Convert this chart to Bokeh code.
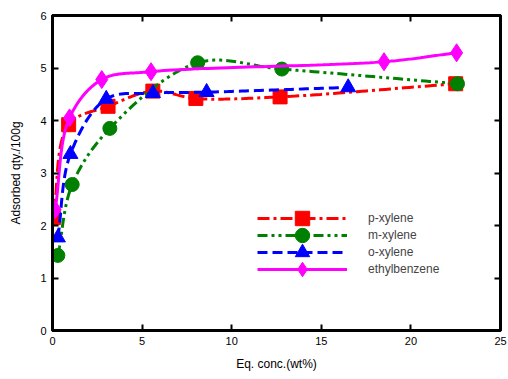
import numpy as np
from bokeh.plotting import figure
from bokeh.models import LinearAxis, Legend, LegendItem, Range1d, FixedTicker
from bokeh.embed import file_html
from bokeh.resources import INLINE

# data
p_x = [0.05, 0.9, 3.1, 5.6, 8.0, 12.7, 22.5]
p_y = [2.15, 3.92, 4.27, 4.56, 4.42, 4.45, 4.70]
m_x = [0.3, 1.1, 3.2, 8.1, 12.8, 22.6]
m_y = [1.43, 2.78, 3.85, 5.10, 4.98, 4.70]
o_x = [0.3, 1.0, 3.0, 5.6, 8.6, 16.5]
o_y = [1.77, 3.36, 4.41, 4.52, 4.54, 4.63]
e_x = [0.15, 0.95, 2.75, 5.5, 18.5, 22.55]
e_y = [2.30, 4.05, 4.78, 4.93, 5.12, 5.29]
names = ["p-xylene", "m-xylene", "o-xylene", "ethylbenzene"]
x_ticks = [0, 5, 10, 15, 20, 25]
y_ticks = [0, 1, 2, 3, 4, 5, 6]


def smooth(x, y, n=40, sx=17.9, sy=52.5, alpha=0.5):
    """Centripetal Catmull-Rom curve through the points (computed in a screen-like scale)."""
    P = np.column_stack([np.asarray(x, float) * sx, np.asarray(y, float) * sy])
    P = np.vstack([2 * P[0] - P[1], P, 2 * P[-1] - P[-2]])
    out = []
    for i in range(1, len(P) - 2):
        p0, p1, p2, p3 = P[i - 1], P[i], P[i + 1], P[i + 2]
        t0 = 0.0
        t1 = t0 + np.linalg.norm(p1 - p0) ** alpha
        t2 = t1 + np.linalg.norm(p2 - p1) ** alpha
        t3 = t2 + np.linalg.norm(p3 - p2) ** alpha
        t = np.linspace(t1, t2, n)[:, None]
        a1 = (t1 - t) / (t1 - t0) * p0 + (t - t0) / (t1 - t0) * p1
        a2 = (t2 - t) / (t2 - t1) * p1 + (t - t1) / (t2 - t1) * p2
        a3 = (t3 - t) / (t3 - t2) * p2 + (t - t2) / (t3 - t2) * p3
        b1 = (t2 - t) / (t2 - t0) * a1 + (t - t0) / (t2 - t0) * a2
        b2 = (t3 - t) / (t3 - t1) * a2 + (t - t1) / (t3 - t1) * a3
        c = (t2 - t) / (t2 - t1) * b1 + (t - t1) / (t2 - t1) * b2
        out.append(c if i == 1 else c[1:])
    C = np.vstack(out)
    return C[:, 0] / sx, C[:, 1] / sy


p = figure(width=508, height=379, output_backend="svg", toolbar_location=None,
           x_range=Range1d(0, 25), y_range=Range1d(0, 6),
           min_border_left=52, min_border_right=8, min_border_top=15, min_border_bottom=49,
           x_axis_label="Eq. conc.(wt%)", y_axis_label="Adsorbed qty./100g")
p.background_fill_color = "white"
p.border_fill_color = "white"
p.grid.visible = False
p.outline_line_color = "black"
p.outline_line_width = 3

font = "Liberation Sans"
for ax in [p.xaxis[0], p.yaxis[0]]:
    ax.major_tick_in = 6
    ax.major_tick_out = 0
    ax.minor_tick_line_color = None
    ax.axis_line_width = 3
    ax.major_tick_line_width = 2
    ax.major_label_text_font = font
    ax.major_label_text_font_size = "11px"
    ax.major_label_text_color = "black"
    ax.axis_label_text_font = font
    ax.axis_label_text_font_size = "12px"
    ax.axis_label_text_font_style = "normal"
    ax.axis_label_text_color = "black"
    ax.major_label_standoff = 6
p.xaxis[0].ticker = FixedTicker(ticks=x_ticks)
p.yaxis[0].ticker = FixedTicker(ticks=y_ticks)
p.xaxis[0].axis_label_standoff = 9
p.yaxis[0].axis_label_standoff = 14

for loc, tick in [("above", x_ticks), ("right", y_ticks)]:
    ax = LinearAxis(ticker=FixedTicker(ticks=tick), major_tick_in=6, major_tick_out=0,
                    minor_tick_line_color=None, axis_line_width=3, major_tick_line_width=2,
                    major_label_overrides={t: "" for t in tick}, major_label_standoff=0)
    p.add_layout(ax, loc)

series = [
    (p_x, p_y, "red", "12 4 3 4", "square", 14),
    (m_x, m_y, "green", "10 4 3 4 3 4", "circle", 14),
    (o_x, o_y, "blue", "10 5", "triangle", 15),
    (e_x, e_y, "magenta", "solid", "diamond", 18),
]
legend_tops = [94, 77, 60, 43]
for (xs, ys, col, dash, mk, sz), nm, ly in zip(series, names, legend_tops):
    sx, sy = smooth(xs, ys)
    l = p.line(sx, sy, line_color=col, line_width=3, line_dash=dash)
    s = p.scatter(xs, ys, marker=mk, size=sz, fill_color=col, line_color=col)
    leg = Legend(items=[LegendItem(label=nm, renderers=[l, s])], location=(205, ly),
                 glyph_width=90, glyph_height=36, padding=0, margin=0, label_standoff=21,
                 border_line_color=None, background_fill_alpha=0,
                 label_text_font=font, label_text_font_size="12px")
    p.add_layout(leg, "center")

open("out.html", "w").write(file_html(p, INLINE))
